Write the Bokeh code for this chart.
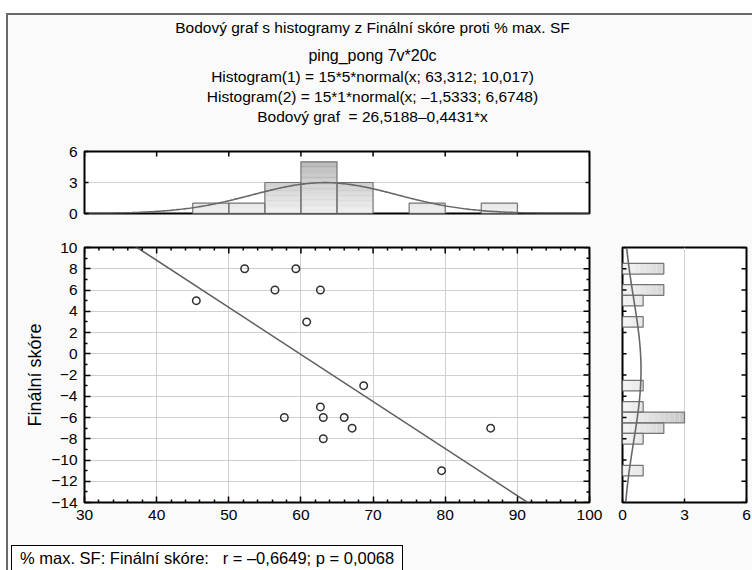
import numpy as np
from bokeh.plotting import figure
from bokeh.models import Range1d, FixedTicker, Div
from bokeh.layouts import column, row
from bokeh.core.properties import value
from bokeh.embed import file_html
from bokeh.resources import INLINE

FONT = "Liberation Sans"
BG = "#fafafa"

# ---------------- texts ----------------
title_lines = [
    "Bodový graf s histogramy z Finální skóre proti % max. SF",
    "ping_pong 7v*20c",
    "Histogram(1) = 15*5*normal(x; 63,312; 10,017)",
    "Histogram(2) = 15*1*normal(x; –1,5333; 6,6748)",
    "Bodový graf\u00a0 = 26,5188–0,4431*x",
]
y_axis_label = "Finální skóre"
stats_text = "% max. SF: Finální skóre:   r = –0,6649; p = 0,0068"

# ---------------- data ----------------
max_sf = [45.5, 52.2, 56.4, 59.3, 62.7, 60.8, 68.7, 62.7, 57.7, 63.1, 66.0, 67.1, 63.1, 86.3, 79.5]
final_score = [5, 8, 6, 8, 6, 3, -3, -5, -6, -6, -6, -7, -8, -7, -11]

# histogram of % max. SF (bin width 5)
x_bin_left = [45, 50, 55, 60, 65, 70, 75, 80, 85]
x_bin_count = [1, 1, 3, 5, 3, 0, 1, 0, 1]
x_bin_width = 5

# histogram of Finální skóre (bin width 1, centred on integers)
y_bin_center = [8, 6, 5, 3, -3, -5, -6, -7, -8, -11]
y_bin_count = [2, 2, 1, 1, 1, 1, 3, 2, 1, 1]
y_bin_width = 1

n_obs = 15
x_mean, x_sd = 63.312, 10.017
y_mean, y_sd = -1.5333, 6.6748
reg_a, reg_b = 26.5188, -0.4431

x_ticks = [30, 40, 50, 60, 70, 80, 90, 100]
x_minor = [32, 34, 36, 38, 42, 44, 46, 48, 52, 54, 56, 58, 62, 64, 66, 68,
           72, 74, 76, 78, 82, 84, 86, 88, 92, 94, 96, 98]
y_ticks = [-14, -12, -10, -8, -6, -4, -2, 0, 2, 4, 6, 8, 10]
y_minor = [-13, -11, -9, -7, -5, -3, -1, 1, 3, 5, 7, 9]
hist_ticks = [0, 3, 6]

X_RANGE = (30, 100)
Y_RANGE = (-14, 10)
H_RANGE = (0, 6)

# ---------------- layout (pixels) ----------------
CONTENT_W = 744
TITLE_H = 120
TOP_H = 100
MAIN_H = 300
BOTTOM_H = 35
MAIN_W = 596
RIGHT_W = CONTENT_W - MAIN_W
FRAME_L = 76          # left border of the aligned frames
FRAME_W = 505
ORIGIN_X, ORIGIN_Y = 8, 15

TICK_FONT = "15.5px"
title_sizes = ["15.5px", "16px", "15.5px", "15.5px", "15.5px"]
title_rows = [27, 55, 76, 96, 116]     # page rows of the title lines
title_center = 372


def normal_pdf(v, m, s):
    return np.exp(-0.5 * ((v - m) / s) ** 2) / (s * np.sqrt(2 * np.pi))


def gray(level):
    level = int(max(0, min(255, round(level))))
    return "#{0:02x}{0:02x}{0:02x}".format(level)


def style_axis(ax, ticks, minor=None, tick_in=5, minor_in=3):
    ax.ticker = FixedTicker(ticks=ticks, minor_ticks=minor or [])
    ax.axis_line_color = None
    ax.major_tick_in = tick_in
    ax.major_tick_out = 0
    ax.minor_tick_in = minor_in
    ax.minor_tick_out = 0
    ax.major_tick_line_color = "black"
    ax.major_tick_line_width = 1.5
    ax.minor_tick_line_color = "black"
    ax.minor_tick_line_width = 1.5
    ax.major_label_text_font = FONT
    ax.major_label_text_font_size = TICK_FONT
    ax.major_label_text_color = "black"
    ax.major_label_standoff = 7


def edge_ticks(p, positions, edge, along, length):
    """Inward tick marks on a frame edge without labels (outer half of the dash is clipped)."""
    pos = list(positions)
    edges = [edge] * len(pos)
    if along == "x":
        p.scatter(pos, edges, marker="dash", size=2 * length, angle=np.pi / 2,
                  line_color="black", line_width=1.5)
    else:
        p.scatter(edges, pos, marker="dash", size=2 * length, angle=0,
                  line_color="black", line_width=1.5)


def make_fig(w, h, xr, yr, bl, br, bt, bb, **kw):
    p = figure(width=w, height=h, x_range=Range1d(*xr), y_range=Range1d(*yr),
               output_backend="svg", toolbar_location=None,
               min_border_left=bl, min_border_right=br,
               min_border_top=bt, min_border_bottom=bb, **kw)
    p.background_fill_color = "white"
    p.border_fill_color = BG
    p.outline_line_color = "black"
    p.outline_line_width = 2
    return p


# ---------------- titles (frame aligned with the plots, page pixel coordinates) ----------------
title_fig = figure(width=CONTENT_W, height=TITLE_H,
                   x_range=Range1d(ORIGIN_X + FRAME_L, ORIGIN_X + FRAME_L + FRAME_W),
                   y_range=Range1d(ORIGIN_Y + TITLE_H, ORIGIN_Y),
                   output_backend="svg", toolbar_location=None,
                   min_border_left=FRAME_L, min_border_right=CONTENT_W - FRAME_L - FRAME_W,
                   min_border_top=0, min_border_bottom=0,
                   x_axis_location=None, y_axis_location=None)
title_fig.grid.visible = False
title_fig.outline_line_color = None
title_fig.background_fill_color = BG
title_fig.border_fill_color = BG
for txt, yy, fs in zip(title_lines, title_rows, title_sizes):
    title_fig.text(x=[title_center], y=[yy], text=[txt], text_align="center", text_baseline="middle",
                   text_font=value(FONT), text_font_size=fs, text_color="black")

# ---------------- top histogram ----------------
top = make_fig(CONTENT_W, TOP_H, X_RANGE, H_RANGE, FRAME_L, CONTENT_W - FRAME_L - FRAME_W, 16, 22,
               x_axis_location=None)
style_axis(top.yaxis[0], hist_ticks, tick_in=4)
top.xgrid.visible = False
top.ygrid.ticker = FixedTicker(ticks=hist_ticks)
top.ygrid.grid_line_color = "#d2d2d2"

sl_l, sl_r, sl_b, sl_t, sl_c = [], [], [], [], []
steps = 24
for left, cnt in zip(x_bin_left, x_bin_count):
    if cnt == 0:
        continue
    edges = np.linspace(0, cnt, steps * cnt // 2 + 2)
    for b0, b1 in zip(edges[:-1], edges[1:]):
        sl_l.append(left)
        sl_r.append(left + x_bin_width)
        sl_b.append(b0)
        sl_t.append(b1)
        sl_c.append(gray(238 - 14 * (b0 + b1) / 2))
top.quad(left=sl_l, right=sl_r, bottom=sl_b, top=sl_t, fill_color=sl_c, line_color=None)
xl = [l for l, c in zip(x_bin_left, x_bin_count) if c > 0]
xc = [c for c in x_bin_count if c > 0]
top.quad(left=xl, right=[l + x_bin_width for l in xl], bottom=0, top=xc,
         fill_color=None, line_color="#747474", line_width=1.2)
cx = np.linspace(X_RANGE[0], X_RANGE[1], 300)
top.line(cx, n_obs * x_bin_width * normal_pdf(cx, x_mean, x_sd), line_color="#686868", line_width=1.6)
edge_ticks(top, x_ticks, H_RANGE[1], "x", 5)
edge_ticks(top, [3], X_RANGE[1], "y", 4)

# ---------------- main scatter ----------------
main = make_fig(MAIN_W, MAIN_H, X_RANGE, Y_RANGE, FRAME_L, MAIN_W - FRAME_L - FRAME_W, 12, 33)
style_axis(main.xaxis[0], x_ticks, x_minor, tick_in=6, minor_in=3)
style_axis(main.yaxis[0], y_ticks, y_minor, tick_in=6, minor_in=3)
main.yaxis[0].axis_label = y_axis_label
main.yaxis[0].axis_label_text_font = FONT
main.yaxis[0].axis_label_text_font_size = "18px"
main.yaxis[0].axis_label_text_font_style = "normal"
main.yaxis[0].axis_label_text_color = "black"
main.yaxis[0].axis_label_standoff = 3
main.xgrid.ticker = FixedTicker(ticks=x_ticks)
main.ygrid.ticker = FixedTicker(ticks=y_ticks)
main.xgrid.grid_line_color = "#d0d0d0"
main.ygrid.grid_line_color = "#d0d0d0"

rx = np.array(X_RANGE, dtype=float)
main.line(rx, reg_a + reg_b * rx, line_color="#5e5e5e", line_width=1.6)
main.scatter(max_sf, final_score, marker="circle", size=7.5, fill_color=None,
             line_color="#303030", line_width=1.5)
edge_ticks(main, x_ticks, Y_RANGE[1], "x", 6)
edge_ticks(main, x_minor, Y_RANGE[1], "x", 3)
edge_ticks(main, y_ticks, X_RANGE[1], "y", 6)
edge_ticks(main, y_minor, X_RANGE[1], "y", 3)

# ---------------- right histogram ----------------
right = make_fig(RIGHT_W, MAIN_H, H_RANGE, Y_RANGE, 18, RIGHT_W - 18 - 124, 12, 33,
                 y_axis_location=None)
style_axis(right.xaxis[0], hist_ticks, tick_in=4)
right.ygrid.visible = False
right.xgrid.ticker = FixedTicker(ticks=hist_ticks)
right.xgrid.grid_line_color = "#d2d2d2"

rl, rr, rb, rt, rc = [], [], [], [], []
for cen, cnt in zip(y_bin_center, y_bin_count):
    edges = np.linspace(0, cnt, steps * cnt // 3 + 2)
    for a0, a1 in zip(edges[:-1], edges[1:]):
        rl.append(a0)
        rr.append(a1)
        rb.append(cen - y_bin_width / 2)
        rt.append(cen + y_bin_width / 2)
        rc.append(gray(245 - 16 * (a0 + a1) / 2))
right.quad(left=rl, right=rr, bottom=rb, top=rt, fill_color=rc, line_color=None)
right.quad(left=0, right=y_bin_count,
           bottom=[c - y_bin_width / 2 for c in y_bin_center],
           top=[c + y_bin_width / 2 for c in y_bin_center],
           fill_color=None, line_color="#747474", line_width=1.2)
cy = np.linspace(Y_RANGE[0], Y_RANGE[1], 300)
right.line(n_obs * y_bin_width * normal_pdf(cy, y_mean, y_sd), cy, line_color="#686868", line_width=1.6)
edge_ticks(right, y_ticks, H_RANGE[0], "y", 4)
edge_ticks(right, y_ticks, H_RANGE[1], "y", 5)

# ---------------- correlation box ----------------
box_html = (
    '<div style="margin:10px 0 0 3px;display:inline-block;border:1.5px solid #000;'
    'background:#fff;padding:3px 8px 10px 8px;font-family:\'Liberation Sans\',Arial,sans-serif;'
    'font-size:16.5px;line-height:19px;white-space:pre;color:#000">' + stats_text + '</div>'
)
bottom = Div(text=box_html, width=CONTENT_W, height=BOTTOM_H,
             styles={"overflow": "hidden", "background-color": BG, "margin": "0"})

root = column(title_fig, top, row(main, right, spacing=0), bottom, spacing=0,
              styles={"margin-top": "13px", "margin-left": "6px",
                      "border-top": "2px solid #6a6a6a", "border-left": "2px solid #6a6a6a",
                      "background-color": BG})

open("out.html", "w").write(file_html(root, INLINE))
